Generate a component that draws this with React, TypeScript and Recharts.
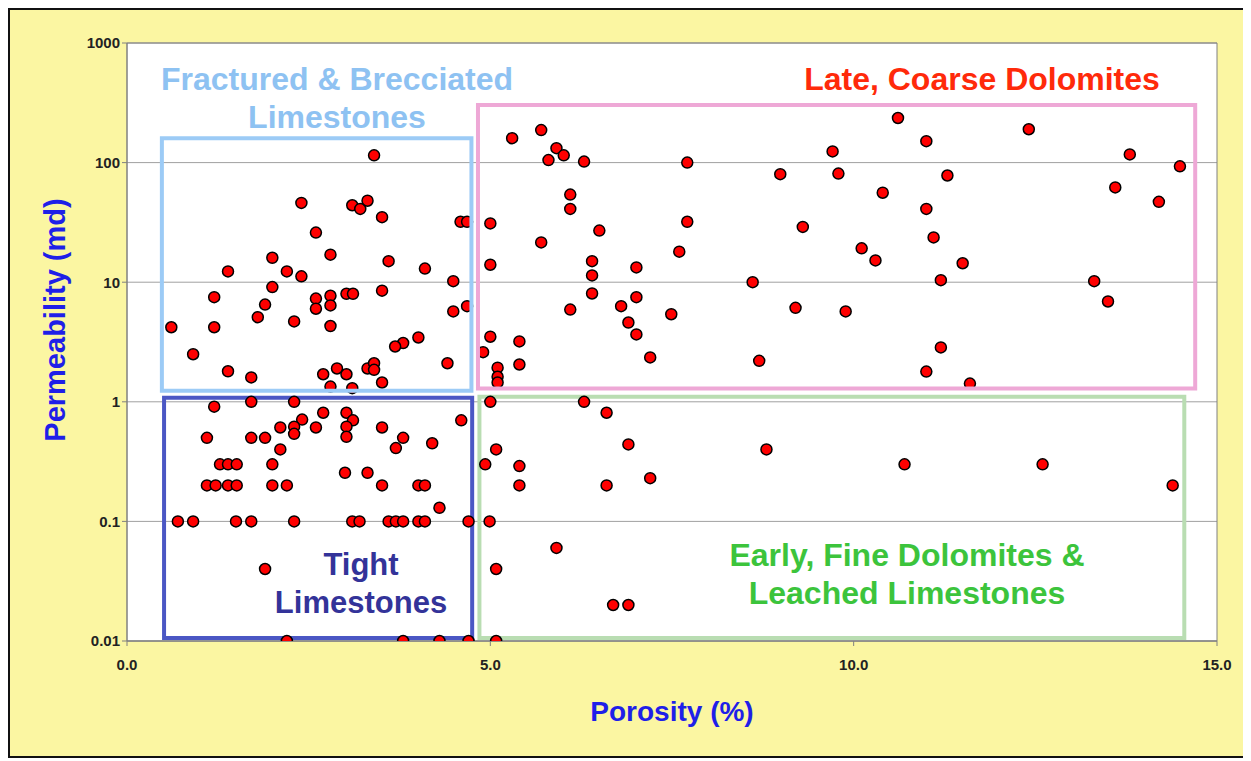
import {
  ScatterChart,
  Scatter,
  XAxis,
  YAxis,
  CartesianGrid,
  ReferenceArea,
} from "recharts";

// ── data (porosity %, permeability md) ───────────────────────────────────────

const porosity = [
  // fractured & brecciated limestones
  3.4, 2.4, 3.1, 3.21, 3.31, 3.51, 4.59, 4.68, 2.6, 2.8, 2.0, 3.6, 4.1, 1.39, 2.2, 2.4, 4.49,
  2.0, 3.51, 1.2, 1.9, 2.6, 2.8, 2.6, 2.8, 3.02, 3.11, 4.49, 4.68, 1.8, 2.3, 0.61, 1.2, 2.8,
  4.01, 3.8, 3.69, 0.91, 4.9, 4.41, 1.39, 1.71, 2.7, 2.89, 3.02, 3.31, 3.4, 3.4, 3.51, 2.8, 3.1,
  // tight limestones
  1.2, 1.71, 2.3, 2.41, 2.7, 3.02, 3.11, 4.6, 2.11, 2.3, 2.3, 2.6, 3.02, 3.02, 3.51, 1.1, 1.71,
  1.9, 3.8, 3.7, 4.2, 2.11, 1.28, 1.39, 1.51, 2.0, 3.0, 3.31, 1.1, 1.22, 1.39, 1.51, 2.0, 2.2,
  3.51, 4.01, 4.1, 4.3, 0.7, 0.91, 1.5, 1.71, 2.3, 3.1, 3.2, 3.6, 3.7, 3.8, 4.01, 4.1, 4.7,
  1.9, 2.2, 3.8, 4.3, 4.7,
  // early, fine dolomites & leached limestones
  4.99, 5.08, 4.93, 5.08, 5.08, 5.0, 6.29, 6.6, 6.9, 8.8, 5.4, 5.4, 6.6, 7.2, 5.91, 6.69, 6.9,
  10.7, 12.6, 14.39,
  // late, coarse dolomites
  5.0, 5.0, 5.0, 5.3, 5.7, 5.91, 6.01, 5.8, 6.29, 7.71, 9.71, 8.99, 9.79, 6.1, 6.1, 7.71, 6.5,
  9.3, 5.7, 7.6, 6.4, 6.4, 7.01, 8.61, 6.4, 7.01, 6.1, 6.8, 7.49, 9.2, 9.89, 6.9, 7.01, 5.4,
  5.4, 7.2, 8.7, 5.1, 5.1, 5.1, 10.61, 12.41, 11.0, 13.8, 14.49, 11.29, 10.4, 13.6, 11.0, 14.2,
  11.1, 10.11, 10.3, 11.5, 11.2, 13.31, 13.5, 11.2, 11.0, 11.6,
];

const permeability = [
  // fractured & brecciated limestones
  115, 46, 44, 41, 48, 35, 32, 32, 26, 17, 16, 15, 13, 12.3, 12.3, 11.2, 10.2,
  9.1, 8.5, 7.5, 6.5, 7.3, 7.7, 6.0, 6.4, 8.0, 8.0, 5.7, 6.3, 5.1, 4.7, 4.2, 4.2, 4.3,
  3.45, 3.1, 2.9, 2.5, 2.6, 2.1, 1.8, 1.6, 1.7, 1.9, 1.7, 1.9, 2.1, 1.85, 1.45, 1.34, 1.3,
  // tight limestones
  0.91, 1.0, 1.0, 0.71, 0.81, 0.81, 0.7, 0.7, 0.61, 0.62, 0.54, 0.61, 0.62, 0.51, 0.61, 0.5, 0.5,
  0.5, 0.5, 0.41, 0.45, 0.4, 0.3, 0.3, 0.3, 0.3, 0.255, 0.255, 0.2, 0.2, 0.2, 0.2, 0.2, 0.2,
  0.2, 0.2, 0.2, 0.13, 0.1, 0.1, 0.1, 0.1, 0.1, 0.1, 0.1, 0.1, 0.1, 0.1, 0.1, 0.1, 0.1,
  0.04, 0.01, 0.01, 0.01, 0.01,
  // early, fine dolomites & leached limestones
  0.1, 0.4, 0.3, 0.04, 0.01, 1.0, 1.0, 0.81, 0.44, 0.4, 0.29, 0.2, 0.2, 0.23, 0.06, 0.02, 0.02,
  0.3, 0.3, 0.2,
  // late, coarse dolomites
  31, 14, 3.5, 160, 187, 132, 115, 105, 102, 100, 124, 80, 81, 54, 41, 32, 27,
  29, 21.5, 18, 15, 11.4, 13.3, 10, 8.05, 7.5, 5.9, 6.3, 5.4, 6.1, 5.7, 4.6, 3.66, 3.2,
  2.05, 2.35, 2.2, 1.93, 1.62, 1.45, 236, 190, 151, 117, 93, 78, 56, 62, 41, 47,
  23.7, 19.2, 15.2, 14.4, 10.4, 10.2, 6.9, 2.85, 1.79, 1.42,
];

const xTicks = [0, 5, 10, 15];
const yTicks = [0.01, 0.1, 1, 10, 100, 1000];

// facies fields, in data units
const fieldPorosity = [
  [0.48, 4.74],
  [4.83, 14.7],
  [0.51, 4.75],
  [4.85, 14.55],
];
const fieldPerm = [
  [1.24, 160],
  [1.29, 303],
  [0.0106, 1.08],
  [0.0106, 1.1],
];

const FIELD_STROKES = ["#9CCBF6", "#EEA8D6", "#4B57C4", "#B9DDB2"];
// upper two fields sit over the dots, lower two under them
const FIELD_ON_TOP = [true, true, false, false];

const points = porosity.map((x, i) => ({ x, y: permeability[i] }));

const FONT = "'Liberation Sans', Arial, sans-serif";

const Dot = (p: any) => (
  <circle cx={p.cx} cy={p.cy} r={5.5} fill="#FF0000" stroke="#000" strokeWidth={1.5} />
);

const textStyle = (color: string, size: number): React.CSSProperties => ({
  position: "absolute",
  fontFamily: FONT,
  fontWeight: "bold",
  fontSize: size,
  color,
  textAlign: "center",
  lineHeight: "38px",
  whiteSpace: "nowrap",
  transform: "translateX(-50%)",
});

export default function App() {
  return (
    <div
      style={{
        position: "relative",
        width: 1235,
        height: 746,
        border: "2px solid #111",
        background: "#FBF6A2",
      }}
    >
      <ScatterChart
        width={1235}
        height={746}
        margin={{ top: 33, right: 28, left: 57, bottom: 75 }}
      >
        <CartesianGrid fill="#fff" vertical={false} stroke="#A0A0A0" />
        <XAxis
          type="number"
          dataKey="x"
          domain={[0, 15]}
          ticks={xTicks}
          tickFormatter={(v) => v.toFixed(1)}
          height={40}
          tickSize={5}
          tickMargin={13}
          axisLine={{ stroke: "#808080" }}
          tickLine={{ stroke: "#808080" }}
          tick={{ fontSize: 15, fill: "#222", fontWeight: "bold", fontFamily: FONT }}
        />
        <YAxis
          type="number"
          dataKey="y"
          scale="log"
          domain={[0.01, 1000]}
          ticks={yTicks}
          allowDataOverflow
          tickFormatter={(v) => String(v)}
          width={60}
          tickSize={5}
          axisLine={{ stroke: "#808080" }}
          tickLine={{ stroke: "#808080" }}
          tick={{ fontSize: 15, fill: "#222", fontWeight: "bold", fontFamily: FONT }}
        />
        <ReferenceArea
          x1={0}
          x2={15}
          y1={0.01}
          y2={1000}
          fill="none"
          stroke="#808080"
          strokeWidth={1}
          fillOpacity={0}
        />
        {fieldPorosity.map((px, i) =>
          FIELD_ON_TOP[i] ? null : (
            <ReferenceArea
              key={"b" + i}
              x1={px[0]}
              x2={px[1]}
              y1={fieldPerm[i][0]}
              y2={fieldPerm[i][1]}
              fill="none"
              fillOpacity={0}
              stroke={FIELD_STROKES[i]}
              strokeWidth={4}
            />
          )
        )}
        <Scatter data={points} shape={Dot} isAnimationActive={false} />
        {fieldPorosity.map((px, i) =>
          FIELD_ON_TOP[i] ? (
            <ReferenceArea
              key={"t" + i}
              x1={px[0]}
              x2={px[1]}
              y1={fieldPerm[i][0]}
              y2={fieldPerm[i][1]}
              fill="none"
              fillOpacity={0}
              stroke={FIELD_STROKES[i]}
              strokeWidth={4}
              zIndex={700}
            />
          ) : null
        )}
      </ScatterChart>

      <div style={{ ...textStyle("#8EC2F2", 32), left: 327, top: 50 }}>
        Fractured &amp; Brecciated
        <br />
        Limestones
      </div>
      <div style={{ ...textStyle("#FF2A0A", 32), left: 972, top: 50 }}>Late, Coarse Dolomites</div>
      <div style={{ ...textStyle("#333399", 31), left: 351, top: 536 }}>
        Tight
        <br />
        Limestones
      </div>
      <div style={{ ...textStyle("#3CC43C", 32), left: 897, top: 526 }}>
        Early, Fine Dolomites &amp;
        <br />
        Leached Limestones
      </div>

      <div
        style={{
          position: "absolute",
          left: 45,
          top: 310,
          transform: "translate(-50%, -50%) rotate(-90deg)",
          fontFamily: FONT,
          fontWeight: "bold",
          fontSize: 29,
          color: "#1F1FE8",
          whiteSpace: "nowrap",
        }}
      >
        Permeability (md)
      </div>
      <div
        style={{
          position: "absolute",
          left: 662,
          top: 702,
          transform: "translate(-50%, -50%)",
          fontFamily: FONT,
          fontWeight: "bold",
          fontSize: 28,
          color: "#1F1FE8",
          whiteSpace: "nowrap",
        }}
      >
        Porosity (%)
      </div>
    </div>
  );
}
